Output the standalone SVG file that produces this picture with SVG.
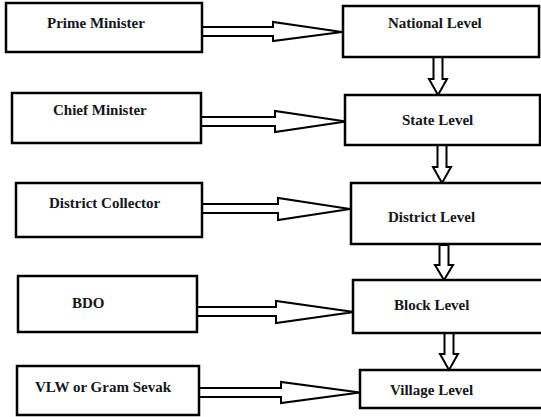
<svg xmlns="http://www.w3.org/2000/svg" width="541" height="417" viewBox="0 0 541 417">
<style>
.box{fill:#fff;stroke:#000;stroke-width:2.5}
.arr{fill:#fff;stroke:#000;stroke-width:2;stroke-linejoin:miter}
.t{font-family:"Liberation Serif","Times New Roman",serif;font-weight:bold;font-size:15px;fill:#151520}
</style>
<rect width="541" height="417" fill="#fff"/>
<g id="connectors">
<polygon class="arr" points="202,27 273,27 273,22 342,32 273,41 273,36 202,36"/>
<polygon class="arr" points="201,117 275,117 275,111 346,121.5 275,132 275,126 201,126"/>
<polygon class="arr" points="202,204 278,204 278,198 350,209 278,220 278,213 202,213"/>
<polygon class="arr" points="197,307 276,307 276,301 354,312 276,323 276,316 197,316"/>
<polygon class="arr" points="199,388 281,388 281,382 360,392.5 281,403 281,397 199,397"/>
<polygon class="arr" points="433.5,57 442.5,57 442.5,79 447,79 438,95 429,79 433.5,79"/>
<polygon class="arr" points="437.5,145 446.5,145 446.5,167 451,167 442,183 433,167 437.5,167"/>
<polygon class="arr" points="439.5,245 448.5,245 448.5,265 453,265 444,280 435,265 439.5,265"/>
<polygon class="arr" points="444.5,333 453.5,333 453.5,354 458,354 449,370 440,354 444.5,354"/>
</g>
<g id="pm"><rect class="box" x="6" y="3" width="196" height="49"/><text class="t" x="47" y="28">Prime Minister</text></g>
<g id="cm"><rect class="box" x="12" y="93" width="189" height="50"/><text class="t" x="53" y="115">Chief Minister</text></g>
<g id="dc"><rect class="box" x="16" y="183" width="186" height="54"/><text class="t" x="49" y="208">District Collector</text></g>
<g id="bdo"><rect class="box" x="18" y="276" width="179" height="56"/><text class="t" x="72" y="308">BDO</text></g>
<g id="vlw"><rect class="box" x="17" y="366" width="182" height="49"/><text class="t" x="35" y="392">VLW or Gram Sevak</text></g>
<g id="national"><rect class="box" x="343" y="6" width="196" height="51"/><text class="t" x="388" y="28">National Level</text></g>
<g id="state"><rect class="box" x="345" y="95" width="195" height="50"/><text class="t" x="402" y="125">State Level</text></g>
<g id="district"><rect class="box" x="351" y="183" width="200" height="61"/><text class="t" x="388" y="222">District Level</text></g>
<g id="block"><rect class="box" x="353" y="280" width="198" height="53"/><text class="t" x="394" y="310">Block Level</text></g>
<g id="village"><rect class="box" x="360" y="370" width="191" height="38"/><text class="t" x="390" y="395">Village Level</text></g>
</svg>
